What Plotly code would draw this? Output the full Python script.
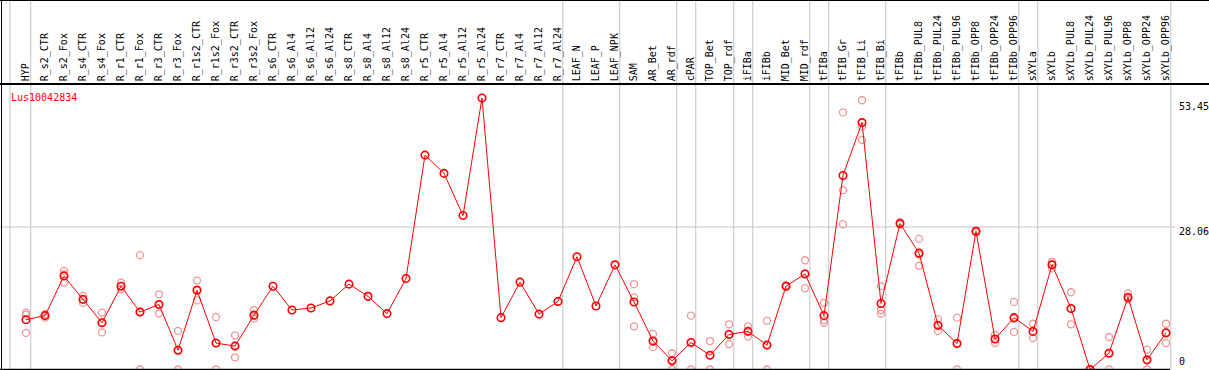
import plotly.graph_objects as go

categories = ["HYP", "R_s2_CTR", "R_s2_Fox", "R_s4_CTR", "R_s4_Fox", "R_r1_CTR", "R_r1_Fox",
              "R_r3_CTR", "R_r3_Fox", "R_r1s2_CTR", "R_r1s2_Fox", "R_r3s2_CTR", "R_r3s2_Fox",
              "R_s6_CTR", "R_s6_Al4", "R_s6_Al12", "R_s6_Al24", "R_s8_CTR", "R_s8_Al4",
              "R_s8_Al12", "R_s8_Al24", "R_r5_CTR", "R_r5_Al4", "R_r5_Al12", "R_r5_Al24",
              "R_r7_CTR", "R_r7_Al4", "R_r7_Al12", "R_r7_Al24", "LEAF_N", "LEAF_P", "LEAF_NPK",
              "SAM", "AR_Bet", "AR_rdf", "cPAR", "TOP_Bet", "TOP_rdf", "iFIBa", "iFIBb",
              "MID_Bet", "MID_rdf", "tFIBa", "tFIB_Gr", "tFIB_Li", "tFIB_Bi", "tFIBb",
              "tFIBb_PUL8", "tFIBb_PUL24", "tFIBb_PUL96", "tFIBb_OPP8", "tFIBb_OPP24",
              "tFIBb_OPP96", "sXYLa", "sXYLb", "sXYLb_PUL8", "sXYLb_PUL24", "sXYLb_PUL96",
              "sXYLb_OPP8", "sXYLb_OPP24", "sXYLb_OPP96"]

mean_values = [9.8, 10.6, 18.4, 13.8, 9.2, 16.4, 11.3, 12.8, 3.8, 15.6, 5.2, 4.6, 10.7,
               16.4, 11.7, 12.1, 13.5, 16.8, 14.4, 11.0, 17.9, 42.2, 38.6, 30.3, 53.45,
               10.2, 17.2, 10.9, 13.4, 22.2, 12.5, 20.6,
               13.3, 5.6, 1.7, 5.3, 2.8, 6.9, 7.5, 4.8, 16.4, 18.8, 10.6, 38.2, 48.6, 13.0,
               28.75, 22.9, 8.7, 5.1, 27.2, 6.0, 10.2, 7.5, 20.6, 12.0, 0.0, 3.2, 14.2, 1.9, 7.2]

N = None
rep1 = [11.2, 10.9, 19.4, 14.5, 11.2, 17.1, 22.5, 14.8, 7.6, 17.5, 10.3, 6.7, 11.7,
        N, N, N, N, N, N, N, N, N, N, N, N, N, N, N, N, N, N, N,
        16.8, 7.0, 3.2, 10.6, 5.6, 8.9, 8.5, 9.6, 16.6, 21.5, 13.1, 50.6, 53.0, 16.4,
        29.0, 25.7, 9.9, 10.2, 27.4, 6.8, 13.3, 9.0, 21.2, 15.2, 0.0, 6.4, 15.0, 3.9, 9.0]
rep2 = [10.8, 10.2, 17.1, 13.1, 7.3, 15.8, 0.0, 11.0, 0.0, 13.6, 0.0, 2.4, 10.0,
        N, N, N, N, N, N, N, N, N, N, N, N, N, N, N, N, N, N, N,
        14.2, 4.4, 0.0, 0.0, 0.0, 5.0, 6.5, 0.0, 16.3, 16.0, 9.7, 35.3, 47.8, 11.7,
        28.5, 20.4, 7.6, 0.0, 27.0, 5.2, 7.4, 6.2, 19.9, 8.9, 0.0, 0.0, 13.9, 0.0, 5.2]
rep3 = [7.2, 10.7, 18.7, 13.8, 9.2, 16.4, 11.4, 12.7, 3.9, 15.7, 5.2, 4.7, 10.5,
        N, N, N, N, N, N, N, N, N, N, N, N, N, N, N, N, N, N, N,
        8.5, 5.5, 1.9, 5.4, 2.8, 6.9, 7.5, 4.8, 16.4, 18.9, 9.2, 28.6, 45.2, 11.0,
        28.8, 22.6, 8.6, 5.2, 27.2, 6.0, 10.0, 7.4, 20.7, 12.0, 0.0, 3.2, 13.8, 1.8, 7.3]

gene_name = "Lus10042834"
ref_tick_labels = ["53.45", "28.06", "0"]
ref_tick_values = [53.45, 28.06, 0]
ref_tick_shift = [-9, -5, 8]
group_bounds = [-0.84, 0.25, 28.25, 31.25, 34.25, 35.25, 37.25, 38.25, 41.25, 42.25,
                45.25, 52.25, 53.25, 60.25]

W, H, TOP = 1209, 370, 85
PH = H - TOP
MONO = "DejaVu Sans Mono"
RED = "#ff0000"
PINK = "rgb(238,150,150)"
GREY = "#c4c4c4"

fig = go.Figure()

for reps in (rep1, rep2, rep3):
    xs = [c for c, v in zip(categories, reps) if v is not None]
    ys = [v for v in reps if v is not None]
    fig.add_trace(go.Scatter(x=xs, y=ys, mode="markers",
                             marker=dict(symbol="circle-open", size=7, color=PINK,
                                         line=dict(width=1.3, color=PINK)),
                             showlegend=False, hoverinfo="skip"))

fig.add_trace(go.Scatter(x=categories, y=mean_values, mode="lines+markers",
                         line=dict(color=RED, width=1),
                         marker=dict(symbol="circle-open", size=7.5, color=RED,
                                     line=dict(width=1.6, color=RED)),
                         showlegend=False))

shapes = []
for b in group_bounds:
    shapes.append(dict(type="line", xref="x", yref="paper", x0=b, x1=b, y0=0, y1=H / PH,
                       line=dict(color=GREY, width=1), layer="below"))
shapes.append(dict(type="line", xref="paper", yref="y", x0=0, x1=1175 / W, y0=28.06, y1=28.06,
                   line=dict(color=GREY, width=1), layer="below"))
# borders
shapes.append(dict(type="line", xref="paper", yref="paper", x0=0, x1=1, y0=(H - 0.5) / PH,
                   y1=(H - 0.5) / PH, line=dict(color="black", width=1)))
shapes.append(dict(type="line", xref="paper", yref="paper", x0=1.5 / W, x1=1.5 / W, y0=0,
                   y1=H / PH, line=dict(color="black", width=1)))
shapes.append(dict(type="line", xref="paper", yref="paper", x0=0, x1=1170 / W, y0=0.6 / PH,
                   y1=0.6 / PH, line=dict(color="black", width=1.5)))

annotations = [dict(text=gene_name, xref="paper", yref="paper", x=9 / W, y=(H - 97) / PH,
                    xanchor="left", yanchor="middle", showarrow=False,
                    font=dict(family=MONO, size=10, color=RED))]
for lab, t, s in zip(ref_tick_labels, ref_tick_values, ref_tick_shift):
    annotations.append(dict(text=lab, xref="paper", yref="y",
                            x=1177 / W, y=t, yshift=s, xanchor="left", yanchor="middle",
                            showarrow=False, font=dict(family=MONO, size=10, color="black")))

r0 = -26 / 19
r1 = r0 + W / 19
fig.update_layout(
    width=W, height=H,
    margin=dict(l=0, r=0, t=TOP, b=0, pad=0),
    paper_bgcolor="white", plot_bgcolor="white",
    shapes=shapes, annotations=annotations,
    xaxis=dict(type="category", categoryorder="array", categoryarray=categories,
               range=[r0, r1], side="top", tickangle=-90, showgrid=False, zeroline=False,
               showline=True, linecolor="black", linewidth=1.5, ticks="",
               tickfont=dict(family=MONO, size=10, color="black")),
    yaxis=dict(range=[-0.1, 56.0], showgrid=False, zeroline=False, showticklabels=False,
               ticks=""),
)

fig.write_html("out.html", config={"displayModeBar": False},
               post_script="document.body.style.margin='0';document.body.style.padding='0';")
